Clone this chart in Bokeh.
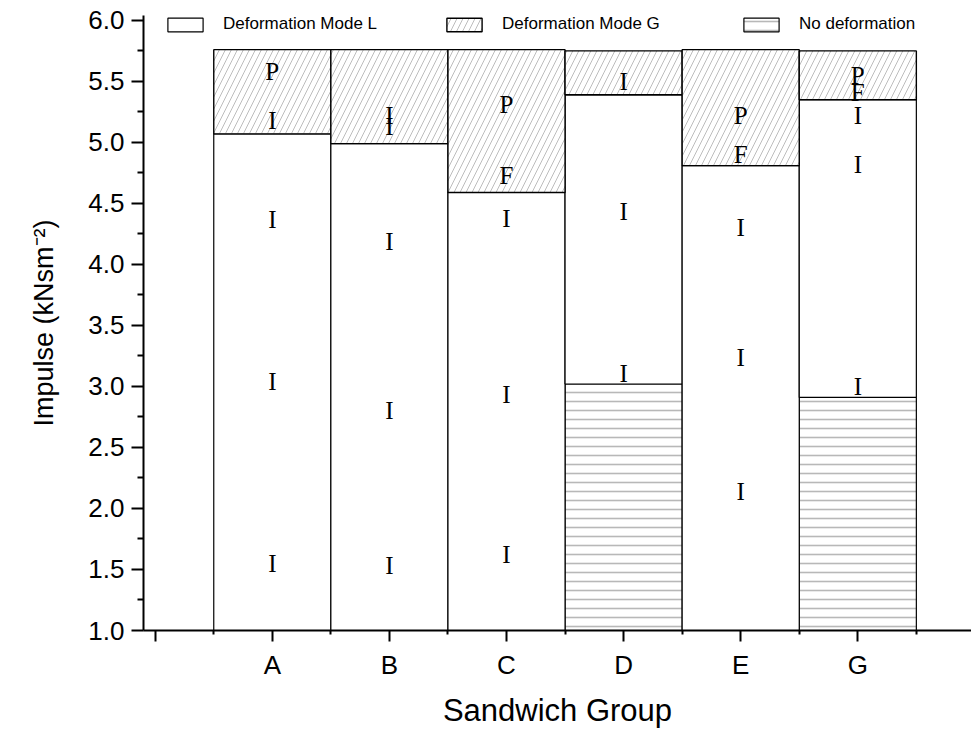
from bokeh.plotting import figure
from bokeh.models import Range1d, FixedTicker, Legend, LegendItem, ColumnDataSource, NumeralTickFormatter
from bokeh.core.properties import value
from bokeh.embed import file_html
from bokeh.resources import INLINE

# ---------------- data ----------------
groups = ["A", "B", "C", "D", "E", "G"]
group_pos = [1, 2, 3, 4, 5, 6]
# top of "No deformation" segment (None = segment absent)
no_deformation_top = [None, None, None, 3.02, None, 2.91]
# top of "Deformation Mode L" segment
mode_L_top = [5.07, 4.99, 4.59, 5.39, 4.81, 5.35]
# top of "Deformation Mode G" segment
mode_G_top = [5.76, 5.76, 5.76, 5.75, 5.76, 5.75]

# failure-mode annotations inside the bars (group, impulse, letter)
mark_group = ["A", "A", "A", "A", "A",
              "B", "B", "B", "B", "B",
              "C", "C", "C", "C", "C",
              "D", "D", "D",
              "E", "E", "E", "E", "E",
              "G", "G", "G", "G", "G"]
mark_value = [1.55, 3.04, 4.37, 5.18, 5.58,
              1.53, 2.80, 4.19, 5.13, 5.22,
              1.62, 2.93, 4.38, 4.73, 5.31,
              3.11, 4.43, 5.50,
              2.14, 3.24, 4.30, 4.90, 5.22,
              3.00, 4.82, 5.22, 5.41, 5.55]
mark_text = ["I", "I", "I", "I", "P",
             "I", "I", "I", "I", "I",
             "I", "I", "I", "F", "P",
             "I", "I", "I",
             "I", "I", "I", "F", "P",
             "I", "I", "I", "F", "P"]

y_ticks = [1.0, 1.5, 2.0, 2.5, 3.0, 3.5, 4.0, 4.5, 5.0, 5.5, 6.0]
x_ticks = [0, 1, 2, 3, 4, 5, 6]
x_tick_labels = ["", "A", "B", "C", "D", "E", "G"]

# ---------------- sources ----------------
pos_of = dict(zip(groups, group_pos))
nd_x = [x for x, t in zip(group_pos, no_deformation_top) if t is not None]
nd_top = [t for t in no_deformation_top if t is not None]
L_bottom = [t if t is not None else 0.0 for t in no_deformation_top]

src_nd = ColumnDataSource(dict(x=nd_x, bottom=[0.0] * len(nd_x), top=nd_top))
src_L = ColumnDataSource(dict(x=group_pos, bottom=L_bottom, top=mode_L_top))
src_G = ColumnDataSource(dict(x=group_pos, bottom=mode_L_top, top=mode_G_top))
src_m = ColumnDataSource(dict(x=[pos_of[g] for g in mark_group], y=mark_value, t=mark_text))

# ---------------- figure ----------------
p = figure(width=971, height=730,
           x_range=Range1d(-0.1, 6.971), y_range=Range1d(1.0, 6.04),
           output_backend="svg", toolbar_location=None,
           min_border_left=143, min_border_top=15, min_border_right=0,
           min_border_bottom=98)
p.outline_line_color = None
p.xgrid.visible = False
p.ygrid.visible = False
p.background_fill_color = "white"
p.border_fill_color = "white"

r_nd = p.vbar(x="x", bottom="bottom", top="top", width=1.0, source=src_nd,
              fill_color="white", line_color="black", line_width=1.2,
              hatch_pattern="-", hatch_color="#b8b8b8", hatch_weight=1.6, hatch_scale=9)
r_L = p.vbar(x="x", bottom="bottom", top="top", width=1.0, source=src_L,
             fill_color="white", line_color="black", line_width=1.2)
r_G = p.vbar(x="x", bottom="bottom", top="top", width=1.0, source=src_G,
             fill_color="white", line_color="black", line_width=1.4,
             hatch_pattern="/", hatch_color="#bdbdbd", hatch_weight=1.0, hatch_scale=12)

p.text(x="x", y="y", text="t", source=src_m,
       text_font=value("Liberation Serif"), text_font_size="25px",
       text_align="center", text_baseline="middle", text_color="black")

# ---------------- axes ----------------
for ax in (p.xaxis[0], p.yaxis[0]):
    ax.axis_line_width = 2
    ax.axis_line_color = "black"
    ax.major_tick_line_width = 2
    ax.minor_tick_line_width = 2
    ax.major_tick_in = 0
    ax.minor_tick_in = 0
    ax.major_label_text_font = "Liberation Sans"
    ax.major_label_text_font_size = "26px"
    ax.major_label_text_color = "black"
    ax.axis_label_text_font = "Liberation Sans"
    ax.axis_label_text_font_style = "normal"
    ax.axis_label_text_color = "black"

p.yaxis.ticker = FixedTicker(ticks=y_ticks,
                             minor_ticks=[t + 0.25 for t in y_ticks[:-1]])
p.yaxis.formatter = NumeralTickFormatter(format="0.0")
p.yaxis.major_tick_out = 12
p.yaxis.minor_tick_out = 6
p.yaxis.major_label_standoff = 7
p.yaxis.axis_label = "Impulse (kNsm\u207b\u00b2)"
p.yaxis.axis_label_text_font_size = "27px"
p.yaxis.axis_label_standoff = 26

p.xaxis.ticker = FixedTicker(ticks=x_ticks, minor_ticks=[t + 0.5 for t in x_ticks])
p.xaxis.major_label_overrides = {t: l for t, l in zip(x_ticks, x_tick_labels)}
p.xaxis.major_tick_out = 11
p.xaxis.minor_tick_out = 4
p.xaxis.major_label_standoff = 8
p.xaxis.axis_label = "Sandwich Group"
p.xaxis.axis_label_text_font_size = "31px"
p.xaxis.axis_label_standoff = 10

# ---------------- legend ----------------
legend_specs = [("Deformation Mode L", r_L, 20),
                ("Deformation Mode G", r_G, 299),
                ("No deformation", r_nd, 596)]
for label, rend, xoff in legend_specs:
    lg = Legend(items=[LegendItem(label=label, renderers=[rend])],
                location=(xoff, 596), orientation="horizontal",
                padding=0, margin=0, spacing=0,
                glyph_width=44, glyph_height=17, label_height=17,
                label_standoff=16, label_text_font="Liberation Sans",
                label_text_font_size="17px", label_text_color="black",
                border_line_alpha=0, background_fill_alpha=0)
    p.add_layout(lg, "center")

open("out.html", "w").write(file_html(p, INLINE))
